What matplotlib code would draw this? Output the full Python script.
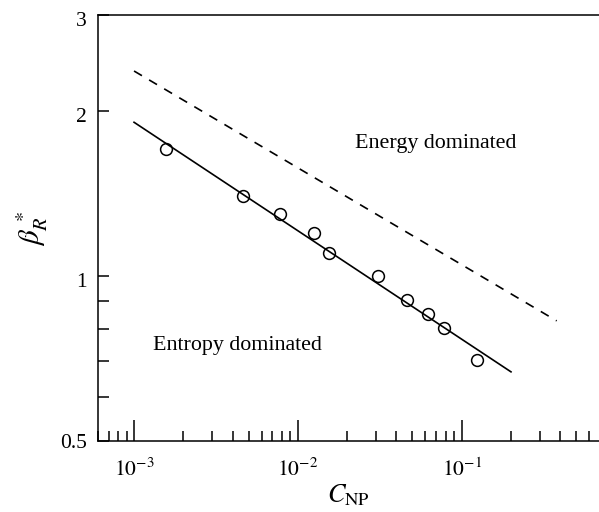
import matplotlib
matplotlib.use("Agg")
import matplotlib.pyplot as plt
from matplotlib.ticker import FixedLocator, NullFormatter, FixedFormatter
from matplotlib.transforms import ScaledTranslation
import numpy as np

# measured points
c_np = [1.57e-3, 4.65e-3, 7.8e-3, 1.25e-2, 1.56e-2, 3.1e-2, 4.65e-2, 6.2e-2, 7.8e-2, 0.124]
beta = [1.71, 1.40, 1.30, 1.20, 1.10, 1.00, 0.904, 0.852, 0.803, 0.702]

# fitted line and boundary line (end points)
fit_x = [1e-3, 0.2]
fit_y = [1.91, 0.668]
bound_x = [1e-3, 0.38]
bound_y = [2.37, 0.828]

yticks = [0.5, 1, 2, 3]
ylabels = ["0.5", "1", "2", "3"]
yminor = [0.6, 0.7, 0.8, 0.9]
xticks = [1e-3, 1e-2, 1e-1]
xlabels = [r"$10^{-3}$", r"$10^{-2}$", r"$10^{-1}$"]

plt.rcParams['font.family'] = ['Liberation Serif', 'DejaVu Serif']
plt.rcParams['mathtext.fontset'] = 'stix'
plt.rcParams['font.size'] = 15.5

fig = plt.figure(figsize=(5.99, 5.12), dpi=100)
ax = fig.add_axes([0.1631, 0.1393, 0.8369, 0.8314])

ax.plot(bound_x, bound_y, 'k--', lw=1.2, dashes=(5.5, 5))
ax.plot(fit_x, fit_y, 'k-', lw=1.2)
ax.plot(c_np, beta, 'o', mfc='none', mec='k', ms=8.5, mew=1.1)

ax.set_xscale('log')
ax.set_yscale('log')
ax.set_xlim(6e-4, 0.689)
ax.set_ylim(0.5, 3)

ax.yaxis.set_major_locator(FixedLocator(yticks))
ax.yaxis.set_major_formatter(FixedFormatter(ylabels))
ax.yaxis.set_minor_locator(FixedLocator(yminor))
ax.yaxis.set_minor_formatter(NullFormatter())
ax.xaxis.set_major_locator(FixedLocator(xticks))
ax.xaxis.set_major_formatter(FixedFormatter(xlabels))
xminor = [m * 10.0**e for e in (-4, -3, -2, -1) for m in range(2, 10)]
ax.xaxis.set_minor_locator(FixedLocator(xminor))
ax.xaxis.set_minor_formatter(NullFormatter())

ax.tick_params(axis='both', which='both', direction='in', width=1.1,
               top=False, right=False)
ax.tick_params(axis='x', which='major', length=15, pad=13)
ax.tick_params(axis='x', which='minor', length=7.5)
ax.tick_params(axis='y', which='both', length=8, pad=8)

# labels 1, 2, 3 sit a little below their ticks in the original
for lbl in ax.get_yticklabels()[1:]:
    lbl.set_transform(lbl.get_transform() + ScaledTranslation(0, -0.04, fig.dpi_scale_trans))

ax.spines['right'].set_visible(False)
for s in ('left', 'bottom', 'top'):
    ax.spines[s].set_linewidth(1.1)

ax.text(0.069, 1.75, "Energy dominated", ha='center', va='center', fontsize=15.8)
ax.text(4.3e-3, 0.745, "Entropy dominated", ha='center', va='center', fontsize=15.8)

ax.set_xlabel(r"$C_{\mathrm{NP}}$", fontsize=19, labelpad=1)
ax.set_ylabel(r"$\beta_R^{\,*}$", fontsize=21, labelpad=6)
ax.yaxis.set_label_coords(-0.095, 0.50)

fig.savefig("out.png", dpi=100)
